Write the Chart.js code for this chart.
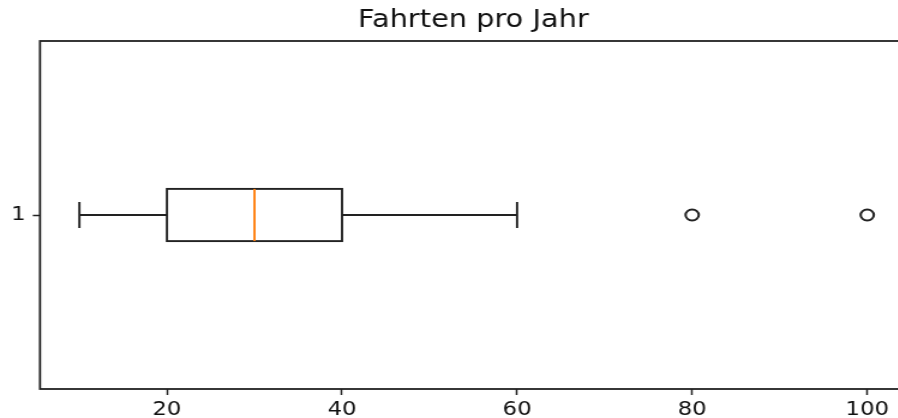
<!DOCTYPE html>
<html>
<head>
<meta charset="utf-8">
<script src="https://cdn.jsdelivr.net/npm/chart.js@4.4.1/dist/chart.umd.min.js"></script>
<style>
  html, body { margin: 0; padding: 0; background: #fff; overflow: hidden; }
  #wrap { width: 898px; height: 418px; overflow: hidden; }
  /* the reference is stretched horizontally, so the canvas is too */
  canvas { transform: scaleX(1.2); transform-origin: 0 0; }
</style>
</head>
<body>
<div id="wrap"><canvas id="chart" width="763" height="418" style="width:763px;height:418px"></canvas></div>
<script>
const categories = ['1'];
const whiskerLow = [10];
const quartile1 = [20];
const medians = [30];
const quartile3 = [40];
const whiskerHigh = [60];
const outliers = [[80, 100]];
const xTicks = [20, 40, 60, 80, 100];

const positions = categories.map((c, i) => i + 1);
const allValues = whiskerLow.concat(whiskerHigh, outliers.flat());
const lo = Math.min(...allValues);
const hi = Math.max(...allValues);
const margin = (hi - lo) * 0.05;

const boxWidth = 0.15;
const capWidth = boxWidth / 2;
const ink = '#222';

const boxPlugin = {
  id: 'boxPlugin',
  beforeDatasetsDraw(chart) {
    const { ctx, chartArea, scales: { x, y } } = chart;
    ctx.save();
    ctx.strokeStyle = ink;
    ctx.lineWidth = 1.8;
    ctx.strokeRect(chartArea.left, chartArea.top, chartArea.right - chartArea.left, chartArea.bottom - chartArea.top);

    positions.forEach((p, i) => {
      const yc = y.getPixelForValue(p);
      const yTop = y.getPixelForValue(p + boxWidth / 2);
      const yBot = y.getPixelForValue(p - boxWidth / 2);
      const cTop = y.getPixelForValue(p + capWidth / 2);
      const cBot = y.getPixelForValue(p - capWidth / 2);
      const xLo = x.getPixelForValue(whiskerLow[i]);
      const xQ1 = x.getPixelForValue(quartile1[i]);
      const xMed = x.getPixelForValue(medians[i]);
      const xQ3 = x.getPixelForValue(quartile3[i]);
      const xHi = x.getPixelForValue(whiskerHigh[i]);

      ctx.strokeStyle = ink;
      ctx.lineWidth = 1.9;
      ctx.beginPath();
      // whiskers
      ctx.moveTo(xLo, yc); ctx.lineTo(xQ1, yc);
      ctx.moveTo(xQ3, yc); ctx.lineTo(xHi, yc);
      // caps
      ctx.moveTo(xLo, cTop); ctx.lineTo(xLo, cBot);
      ctx.moveTo(xHi, cTop); ctx.lineTo(xHi, cBot);
      ctx.stroke();
      ctx.strokeRect(xQ1, yTop, xQ3 - xQ1, yBot - yTop);

      ctx.strokeStyle = '#ff7f0e';
      ctx.lineWidth = 1.9;
      ctx.beginPath();
      ctx.moveTo(xMed, yTop); ctx.lineTo(xMed, yBot);
      ctx.stroke();
    });
    ctx.restore();
  }
};

new Chart(document.getElementById('chart'), {
  type: 'scatter',
  data: {
    datasets: [{
      data: outliers.flatMap((vals, i) => vals.map(v => ({ x: v, y: positions[i] }))),
      pointStyle: 'circle',
      pointRadius: 5.5,
      pointBorderWidth: 2,
      pointBorderColor: ink,
      pointBackgroundColor: 'rgba(0,0,0,0)'
    }]
  },
  options: {
    responsive: false,
    animation: false,
    layout: { padding: { left: 0, right: 1.8, top: 0, bottom: 0 } },
    plugins: {
      legend: { display: false },
      tooltip: { enabled: false },
      title: {
        display: true,
        fullSize: false,
        text: 'Fahrten pro Jahr',
        color: '#111',
        font: { family: 'DejaVu Sans', size: 24, weight: 'normal' },
        padding: { top: 6.8, bottom: 5.4 }
      }
    },
    scales: {
      x: {
        type: 'linear',
        min: lo - margin,
        max: hi + margin,
        afterBuildTicks: (scale) => { scale.ticks = xTicks.map(v => ({ value: v })); },
        afterFit: (scale) => {
          scale.height = 29;
          scale.paddingLeft = 0;
          scale.paddingRight = 0;
        },
        grid: { drawOnChartArea: false, drawTicks: true, tickLength: 6, tickColor: ink, tickWidth: 1.5 },
        border: { display: false },
        ticks: {
          color: '#111',
          padding: 4,
          maxRotation: 0,
          font: { family: 'DejaVu Sans', size: 19 }
        }
      },
      y: {
        type: 'linear',
        min: 0.5,
        max: 1.5,
        afterBuildTicks: (scale) => { scale.ticks = positions.map(v => ({ value: v })); },
        afterFit: (scale) => {
          scale.width = 40 / 1.2;
          scale.paddingTop = 0;
          scale.paddingBottom = 0;
        },
        grid: { drawOnChartArea: false, drawTicks: true, tickLength: 6, tickColor: ink, tickWidth: 1.5 },
        border: { display: false },
        ticks: {
          color: '#111',
          padding: 6,
          font: { family: 'DejaVu Sans', size: 19 },
          callback: (value) => categories[positions.indexOf(value)]
        }
      }
    }
  },
  plugins: [boxPlugin]
});
</script>
</body>
</html>
